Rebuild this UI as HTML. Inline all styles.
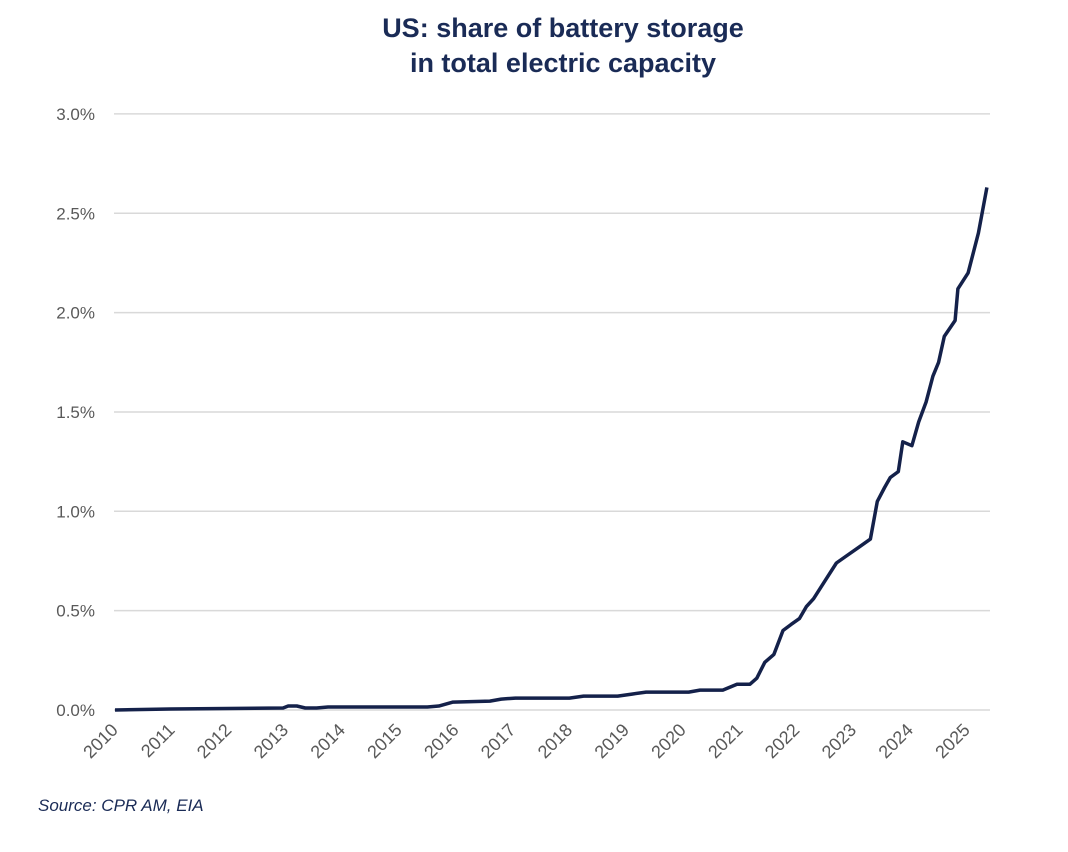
<!DOCTYPE html>
<html><head><meta charset="utf-8"><style>
body{margin:0;background:#fff;}
svg{display:block;font-family:"Liberation Sans",Arial,sans-serif;}
</style></head><body>
<svg id="chart" width="1068" height="852" viewBox="0 0 1068 852">
<text x="563" y="37" text-anchor="middle" font-size="27" font-weight="bold" fill="#1a2b56">US: share of battery storage</text>
<text x="563" y="72" text-anchor="middle" font-size="27" font-weight="bold" fill="#1a2b56">in total electric capacity</text>
<g id="grid"></g>
<g id="ylabels"></g>
<g id="xlabels"></g>
<path id="line" fill="none" stroke="#14214a" stroke-width="3.5" stroke-linejoin="round"></path>
<text x="38" y="811" font-size="17" font-style="italic" fill="#1a2b56">Source: CPR AM, EIA</text>
</svg>
<script>
const yTicks=[0,0.5,1.0,1.5,2.0,2.5,3.0];
const yTickLabels=["0.0%","0.5%","1.0%","1.5%","2.0%","2.5%","3.0%"];
const xTicks=[2010,2011,2012,2013,2014,2015,2016,2017,2018,2019,2020,2021,2022,2023,2024,2025];
const years=[2010,2010.97,2012.96,2013.05,2013.2,2013.35,2013.55,2013.75,2015.5,2015.7,2015.95,2016.6,2016.8,2017.05,2017.4,2018.0,2018.25,2018.85,2019.1,2019.35,2020.1,2020.3,2020.7,2020.95,2021.18,2021.3,2021.44,2021.6,2021.76,2021.9,2022.05,2022.17,2022.3,2022.5,2022.7,2022.85,2023.1,2023.3,2023.42,2023.55,2023.65,2023.79,2023.87,2024.03,2024.15,2024.28,2024.4,2024.5,2024.6,2024.79,2024.84,2025.02,2025.2,2025.35];
const values=[0,0.005,0.01,0.02,0.02,0.01,0.01,0.015,0.015,0.02,0.04,0.045,0.055,0.06,0.06,0.06,0.07,0.07,0.08,0.09,0.09,0.1,0.1,0.13,0.13,0.16,0.24,0.28,0.40,0.43,0.46,0.52,0.56,0.65,0.74,0.77,0.82,0.86,1.05,1.12,1.17,1.20,1.35,1.33,1.45,1.55,1.68,1.75,1.88,1.96,2.12,2.20,2.40,2.63];
const X0=115,XS=56.8,Y0=710,YS=198.7;
const xs=v=>X0+(v-2010)*XS;
const ys=v=>Y0-v*YS;
const NS="http://www.w3.org/2000/svg";
const grid=document.getElementById('grid'),yl=document.getElementById('ylabels'),xl=document.getElementById('xlabels');
yTicks.forEach((t,i)=>{
 const l=document.createElementNS(NS,'line');
 
 
 l.setAttribute('x1',114);l.setAttribute('x2',990);
 l.setAttribute('y1',ys(t));l.setAttribute('y2',ys(t));
 l.setAttribute('stroke','#d9d9d9');l.setAttribute('stroke-width','1.5');
 grid.appendChild(l);
 const tx=document.createElementNS(NS,'text');
 
 
 tx.setAttribute('x',95);tx.setAttribute('y',ys(t)+6);
 tx.setAttribute('text-anchor','end');tx.setAttribute('font-size','17');tx.setAttribute('fill','#595959');
 tx.textContent=yTickLabels[i];
 yl.appendChild(tx);
});
xTicks.forEach(t=>{
 const tx=document.createElementNS(NS,'text');
 
 
 const x=xs(t)+4,y=731;
 tx.setAttribute('x',x);tx.setAttribute('y',y);
 tx.setAttribute('text-anchor','end');tx.setAttribute('font-size','18');tx.setAttribute('fill','#595959');
 tx.setAttribute('transform','rotate(-45 '+x+' '+y+')');
 tx.textContent=String(t);
 xl.appendChild(tx);
});
document.getElementById('line').setAttribute('d',years.map((y,i)=>(i?'L':'M')+xs(y).toFixed(1)+' '+ys(values[i]).toFixed(1)).join(' '));
</script>
</body></html>
